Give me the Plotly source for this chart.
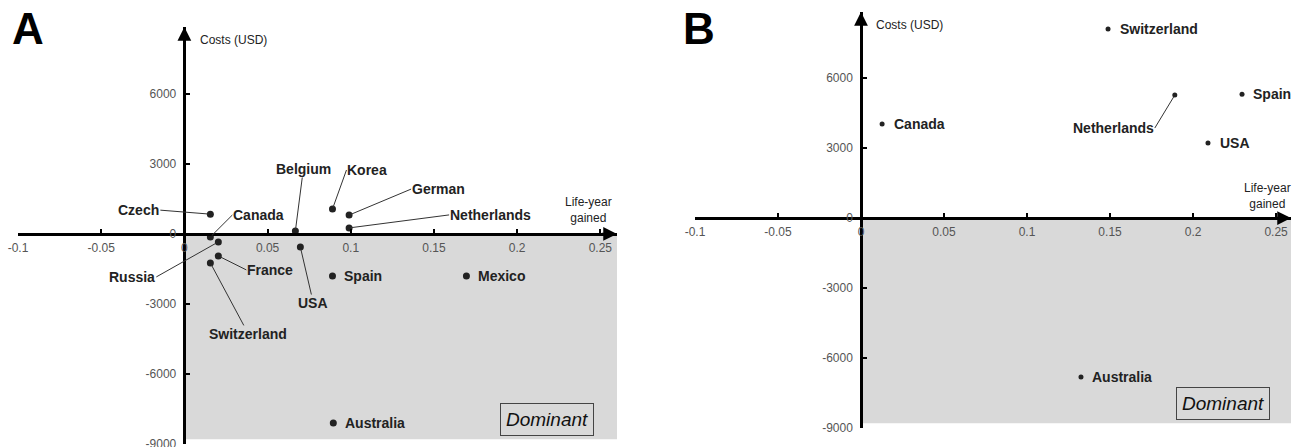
import plotly.graph_objects as go

# ---------------- data ----------------
a_countries = ["Czech", "Canada", "Russia", "France", "Switzerland", "Belgium", "USA",
               "Korea", "German", "Netherlands", "Spain", "Mexico", "Australia"]
a_lyg = [0.0156, 0.0156, 0.0204, 0.0204, 0.0156, 0.0667, 0.0697,
         0.089, 0.099, 0.099, 0.089, 0.1695, 0.0895]
a_cost = [850, -130, -340, -940, -1240, 130, -560,
          1070, 810, 260, -1800, -1800, -8100]

b_countries = ["Canada", "Switzerland", "Netherlands", "Spain", "USA", "Australia"]
b_lyg = [0.0127, 0.1488, 0.189, 0.2295, 0.209, 0.1325]
b_cost = [4030, 8100, 5270, 5310, 3210, -6810]

x_tickvals = [-0.1, -0.05, 0, 0.05, 0.1, 0.15, 0.2, 0.25]
x_ticktext = ["-0.1", "-0.05", "0", "0.05", "0.1", "0.15", "0.2", "0.25"]
y_tickvals = [-9000, -6000, -3000, 0, 3000, 6000]
y_ticktext = ["-9000", "-6000", "-3000", "0", "3000", "6000"]

# ---------------- style / layout ----------------
W, H = 1293, 447
FONT = "Arial, Liberation Sans, sans-serif"

# label placement (pixel offsets from point): (ax, ay, xanchor, leader)
a_label_style = {
    "Czech": (-50, -4, "right", True),
    "Canada": (22, -22, "left", True),
    "Russia": (-62, 35, "right", True),
    "France": (28, 14, "left", True),
    "Switzerland": (38, 71, "center", True),
    "Belgium": (8, -62, "center", True),
    "USA": (13, 56, "center", True),
    "Korea": (14, -39, "left", True),
    "German": (62, -26, "left", True),
    "Netherlands": (100, -13, "left", True),
    "Spain": (10, 0, "left", False),
    "Mexico": (10, 0, "left", False),
    "Australia": (10, 0, "left", False),
}
b_label_style = {
    "Canada": (10, 0, "left", False),
    "Switzerland": (10, 0, "left", False),
    "Netherlands": (-20, 33, "right", True),
    "Spain": (9, 0, "left", False),
    "USA": (10, 0, "left", False),
    "Australia": (9, 0, "left", False),
}

panels = {
    "A": dict(xpx=(18, 617), ypx=(27, 444), xr=(-0.1, 0.26), yr=(-9000, 8870),
              xa="x", ya="y", msize=7, countries=a_countries, xs=a_lyg, ys=a_cost,
              lab=a_label_style, costs_shift=14, costs_y=8320, lyg_x=0.2428, lyg_y=1030,
              letter_x=10),
    "B": dict(xpx=(695, 1291), ypx=(12, 428), xr=(-0.1, 0.259), yr=(-9000, 8830),
              xa="x2", ya="y2", msize=5, countries=b_countries, xs=b_lyg, ys=b_cost,
              lab=b_label_style, costs_shift=13, costs_y=8270, lyg_x=0.2446, lyg_y=940,
              letter_x=681),
}

fig = go.Figure()
annotations = []
shapes = []
layout_axes = {}

for name, p in panels.items():
    xd = (p["xpx"][0] / W, p["xpx"][1] / W)
    yd = (1 - p["ypx"][1] / H, 1 - p["ypx"][0] / H)
    ypos0 = yd[0] + (0 - p["yr"][0]) / (p["yr"][1] - p["yr"][0]) * (yd[1] - yd[0])
    xpos0 = xd[0] + (0 - p["xr"][0]) / (p["xr"][1] - p["xr"][0]) * (xd[1] - xd[0])
    xkey = "xaxis" if p["xa"] == "x" else "xaxis2"
    ykey = "yaxis" if p["ya"] == "y" else "yaxis2"
    layout_axes[xkey] = dict(
        domain=list(xd), range=list(p["xr"]), anchor="free", position=ypos0,
        showline=True, linecolor="black", linewidth=2.5, ticks="inside", ticklen=4,
        tickwidth=2, tickcolor="black", tickvals=x_tickvals, ticktext=x_ticktext,
        tickfont=dict(size=12, color="#555", family=FONT), showgrid=False,
        zeroline=False, ticklabelstandoff=2, automargin=False, ticklabeloverflow="allow")
    layout_axes[ykey] = dict(
        domain=list(yd), range=list(p["yr"]), anchor="free", position=xpos0,
        showline=True, linecolor="black", linewidth=2.5, ticks="inside", ticklen=4,
        tickwidth=2, tickcolor="black", tickvals=y_tickvals, ticktext=y_ticktext,
        tickfont=dict(size=12, color="#555", family=FONT), showgrid=False,
        zeroline=False, ticklabelstandoff=5, automargin=False, ticklabeloverflow="allow")

    shapes.append(dict(type="rect", xref=p["xa"], yref=p["ya"], x0=0, x1=p["xr"][1],
                       y0=-8800, y1=0, fillcolor="#d9d9d9", line=dict(width=0),
                       layer="below"))

    fig.add_trace(go.Scatter(
        x=p["xs"], y=p["ys"], mode="markers", xaxis=p["xa"], yaxis=p["ya"],
        marker=dict(size=p["msize"], color="#222"), text=p["countries"],
        hoverinfo="text", showlegend=False, cliponaxis=False))

    for c, xv, yv in zip(p["countries"], p["xs"], p["ys"]):
        ax, ay, xanc, leader = p["lab"][c]
        if leader:
            annotations.append(dict(
                x=xv, y=yv, xref=p["xa"], yref=p["ya"], text=f"<b>{c}</b>",
                showarrow=True, arrowhead=0, arrowwidth=1, arrowcolor="#333",
                ax=ax, ay=ay, axref="pixel", ayref="pixel", xanchor=xanc,
                yanchor="middle", standoff=2, borderpad=0,
                font=dict(size=14, color="#222", family=FONT)))
        else:
            annotations.append(dict(
                x=xv, y=yv, xref=p["xa"], yref=p["ya"], text=f"<b>{c}</b>",
                showarrow=False, xanchor=xanc, yanchor="middle", xshift=ax,
                font=dict(size=14, color="#222", family=FONT)))

    annotations.append(dict(x=p["xr"][1], y=0, xref=p["xa"], yref=p["ya"],
                            ax=p["xr"][1] - 0.01, ay=0, axref=p["xa"], ayref=p["ya"],
                            showarrow=True, arrowhead=2, arrowsize=1.1, arrowwidth=2.5,
                            arrowcolor="black", text=""))
    annotations.append(dict(x=0, y=p["yr"][1], xref=p["xa"], yref=p["ya"],
                            ax=0, ay=p["yr"][1] - 400, axref=p["xa"], ayref=p["ya"],
                            showarrow=True, arrowhead=2, arrowsize=1.1, arrowwidth=2.5,
                            arrowcolor="black", text=""))
    annotations.append(dict(x=0, y=p["costs_y"], xref=p["xa"], yref=p["ya"],
                            text="Costs (USD)", showarrow=False, xanchor="left",
                            yanchor="middle", xshift=p["costs_shift"],
                            font=dict(size=12, color="#222", family=FONT)))
    annotations.append(dict(x=p["lyg_x"], y=p["lyg_y"], xref=p["xa"], yref=p["ya"],
                            text="Life-year<br>gained", showarrow=False, align="center",
                            xanchor="center", yanchor="middle",
                            font=dict(size=12, color="#222", family=FONT)))
    annotations.append(dict(x=0.218, y=-7940, xref=p["xa"], yref=p["ya"],
                            text="<i>Dominant</i>", showarrow=False, xanchor="center",
                            yanchor="middle", bordercolor="#444", borderwidth=1,
                            borderpad=5, bgcolor="#d9d9d9",
                            font=dict(size=19, color="#111", family=FONT)))
    annotations.append(dict(x=p["letter_x"] / W, y=1 - 28.5 / H, xref="paper", yref="paper",
                            text=f"<b>{name}</b>", showarrow=False, xanchor="left",
                            yanchor="middle", font=dict(size=44, color="black", family=FONT)))

fig.update_layout(
    template="none",
    width=W, height=H, margin=dict(l=0, r=0, t=0, b=0, pad=0),
    paper_bgcolor="white", plot_bgcolor="white",
    annotations=annotations, shapes=shapes, showlegend=False,
    font=dict(family=FONT), **layout_axes)

fig.write_html("out.html", config={"displayModeBar": False},
               post_script="document.body.style.margin='0';document.body.style.overflow='hidden';")
